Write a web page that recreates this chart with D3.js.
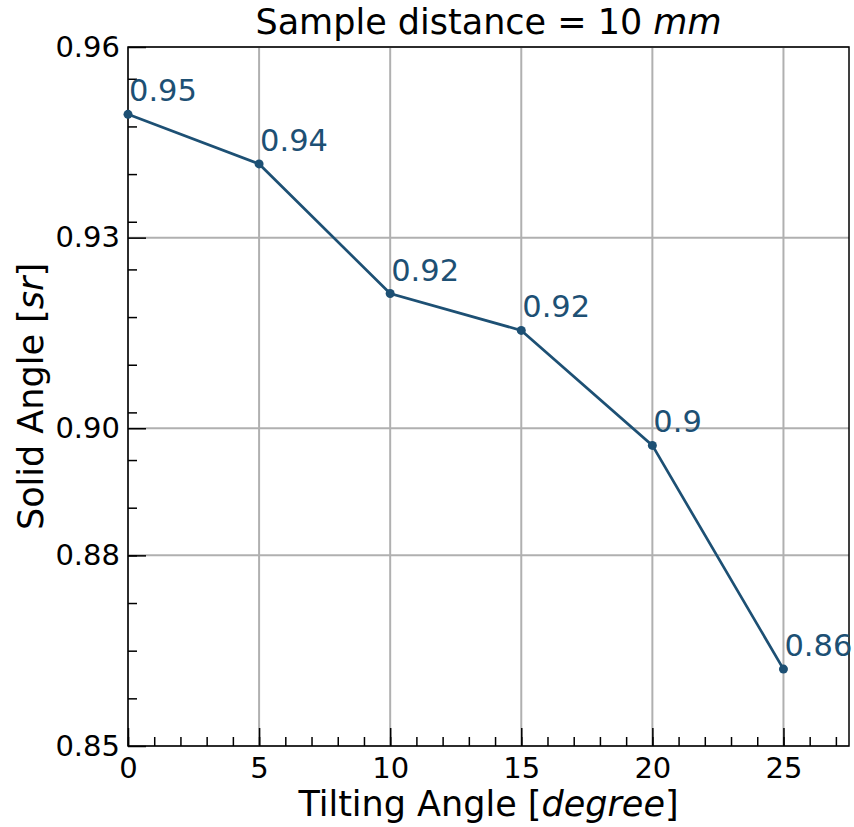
<!DOCTYPE html>
<html>
<head>
<meta charset="utf-8">
<script src="https://cdn.jsdelivr.net/npm/d3@7"></script>
<style>
body { margin: 0; background: #fff; }
text { font-family: "DejaVu Sans", sans-serif; }
</style>
</head>
<body>
<div id="chart"></div>
<script>
// data
var angles = [0, 5, 10, 15, 20, 25]
var solidAngle = [0.9494, 0.9416, 0.9212, 0.9154, 0.8973, 0.8621]
var pointLabels = ["0.95", "0.94", "0.92", "0.92", "0.9", "0.86"]
var xTicks = [0, 5, 10, 15, 20, 25]
var yTicks = [0.85, 0.88, 0.90, 0.93, 0.96]
var yTickLabels = ["0.85", "0.88", "0.90", "0.93", "0.96"]

var w = 854
var h = 827
var padL = 128, padR = 849, padT = 47, padB = 746
var lineColor = "#1d5074"

var svg = d3.select("#chart")
    .append("svg")
    .attr("width", w)
    .attr("height", h)

var x = d3.scaleLinear().domain([0, 27.5]).range([padL, padR])
var y = d3.scaleLinear().domain([0.85, 0.96]).range([padB, padT])

// grid
svg.append("g")
    .selectAll("line")
    .data(xTicks)
    .enter()
    .append("line")
    .attr("x1", d => x(d)).attr("x2", d => x(d))
    .attr("y1", padT).attr("y2", padB)
    .attr("stroke", "#b0b0b0")
    .attr("stroke-width", 2)

svg.append("g")
    .selectAll("line")
    .data(yTicks)
    .enter()
    .append("line")
    .attr("x1", padL).attr("x2", padR)
    .attr("y1", d => y(d)).attr("y2", d => y(d))
    .attr("stroke", "#b0b0b0")
    .attr("stroke-width", 2)

// axes, ticks pointing inward
var xAxis = d3.axisBottom(x).tickValues(xTicks).tickSizeInner(-18).tickSizeOuter(0).tickPadding(11)
var xMinor = d3.axisBottom(x).tickValues(d3.range(0, 27.5, 1)).tickSize(-9).tickFormat("")
var yAxis = d3.axisLeft(y).tickValues(yTicks).tickSizeInner(-18).tickSizeOuter(0).tickPadding(8)
    .tickFormat((d, i) => yTickLabels[i])
var yMinor = d3.axisLeft(y).tickValues(d3.range(1, 15).map(k => 0.85 + k * 0.0075)).tickSize(-9).tickFormat("")

function styleAxis(g){
    g.select(".domain").remove()
    g.selectAll("line").attr("stroke", "#000").attr("stroke-width", 1.5)
    g.selectAll("text").attr("font-size", 29).attr("fill", "#000")
        .style("font-family", "'DejaVu Sans', sans-serif")
}

svg.append("g").attr("transform", "translate(0," + padB + ")").call(xMinor).call(styleAxis)
svg.append("g").attr("transform", "translate(0," + padB + ")").call(xAxis).call(styleAxis)
svg.append("g").attr("transform", "translate(" + padL + ",0)").call(yMinor).call(styleAxis)
svg.append("g").attr("transform", "translate(" + padL + ",0)").call(yAxis).call(styleAxis)

// frame
svg.append("rect")
    .attr("x", padL).attr("y", padT)
    .attr("width", padR - padL).attr("height", padB - padT)
    .attr("fill", "none")
    .attr("stroke", "#000")
    .attr("stroke-width", 1.5)

// data line
var pts = angles.map((a, i) => [a, solidAngle[i]])

svg.append("path")
    .datum(pts)
    .attr("d", d3.line().x(d => x(d[0])).y(d => y(d[1])))
    .attr("fill", "none")
    .attr("stroke", lineColor)
    .attr("stroke-width", 2.7)

svg.selectAll(".pt")
    .data(pts)
    .enter()
    .append("circle")
    .attr("class", "pt")
    .attr("cx", d => x(d[0]))
    .attr("cy", d => y(d[1]))
    .attr("r", 4.5)
    .attr("fill", lineColor)

svg.selectAll(".plabel")
    .data(pts)
    .enter()
    .append("text")
    .attr("class", "plabel")
    .attr("x", d => x(d[0]) + 1)
    .attr("y", d => y(d[1]) - 13)
    .attr("font-size", 30.5)
    .attr("fill", lineColor)
    .text((d, i) => pointLabels[i])

// titles
svg.append("text")
    .attr("x", (padL + padR) / 2)
    .attr("y", 34)
    .attr("text-anchor", "middle")
    .attr("font-size", 35)
    .html('Sample distance = 10 <tspan font-style="italic">mm</tspan>')

svg.append("text")
    .attr("x", (padL + padR) / 2)
    .attr("y", 816)
    .attr("text-anchor", "middle")
    .attr("font-size", 35)
    .html('Tilting Angle [<tspan font-style="italic">degree</tspan>]')

svg.append("text")
    .attr("transform", "translate(43," + (padT + padB) / 2 + ") rotate(-90)")
    .attr("text-anchor", "middle")
    .attr("font-size", 35)
    .html('Solid Angle [<tspan font-style="italic">sr</tspan>]')
</script>
</body>
</html>
